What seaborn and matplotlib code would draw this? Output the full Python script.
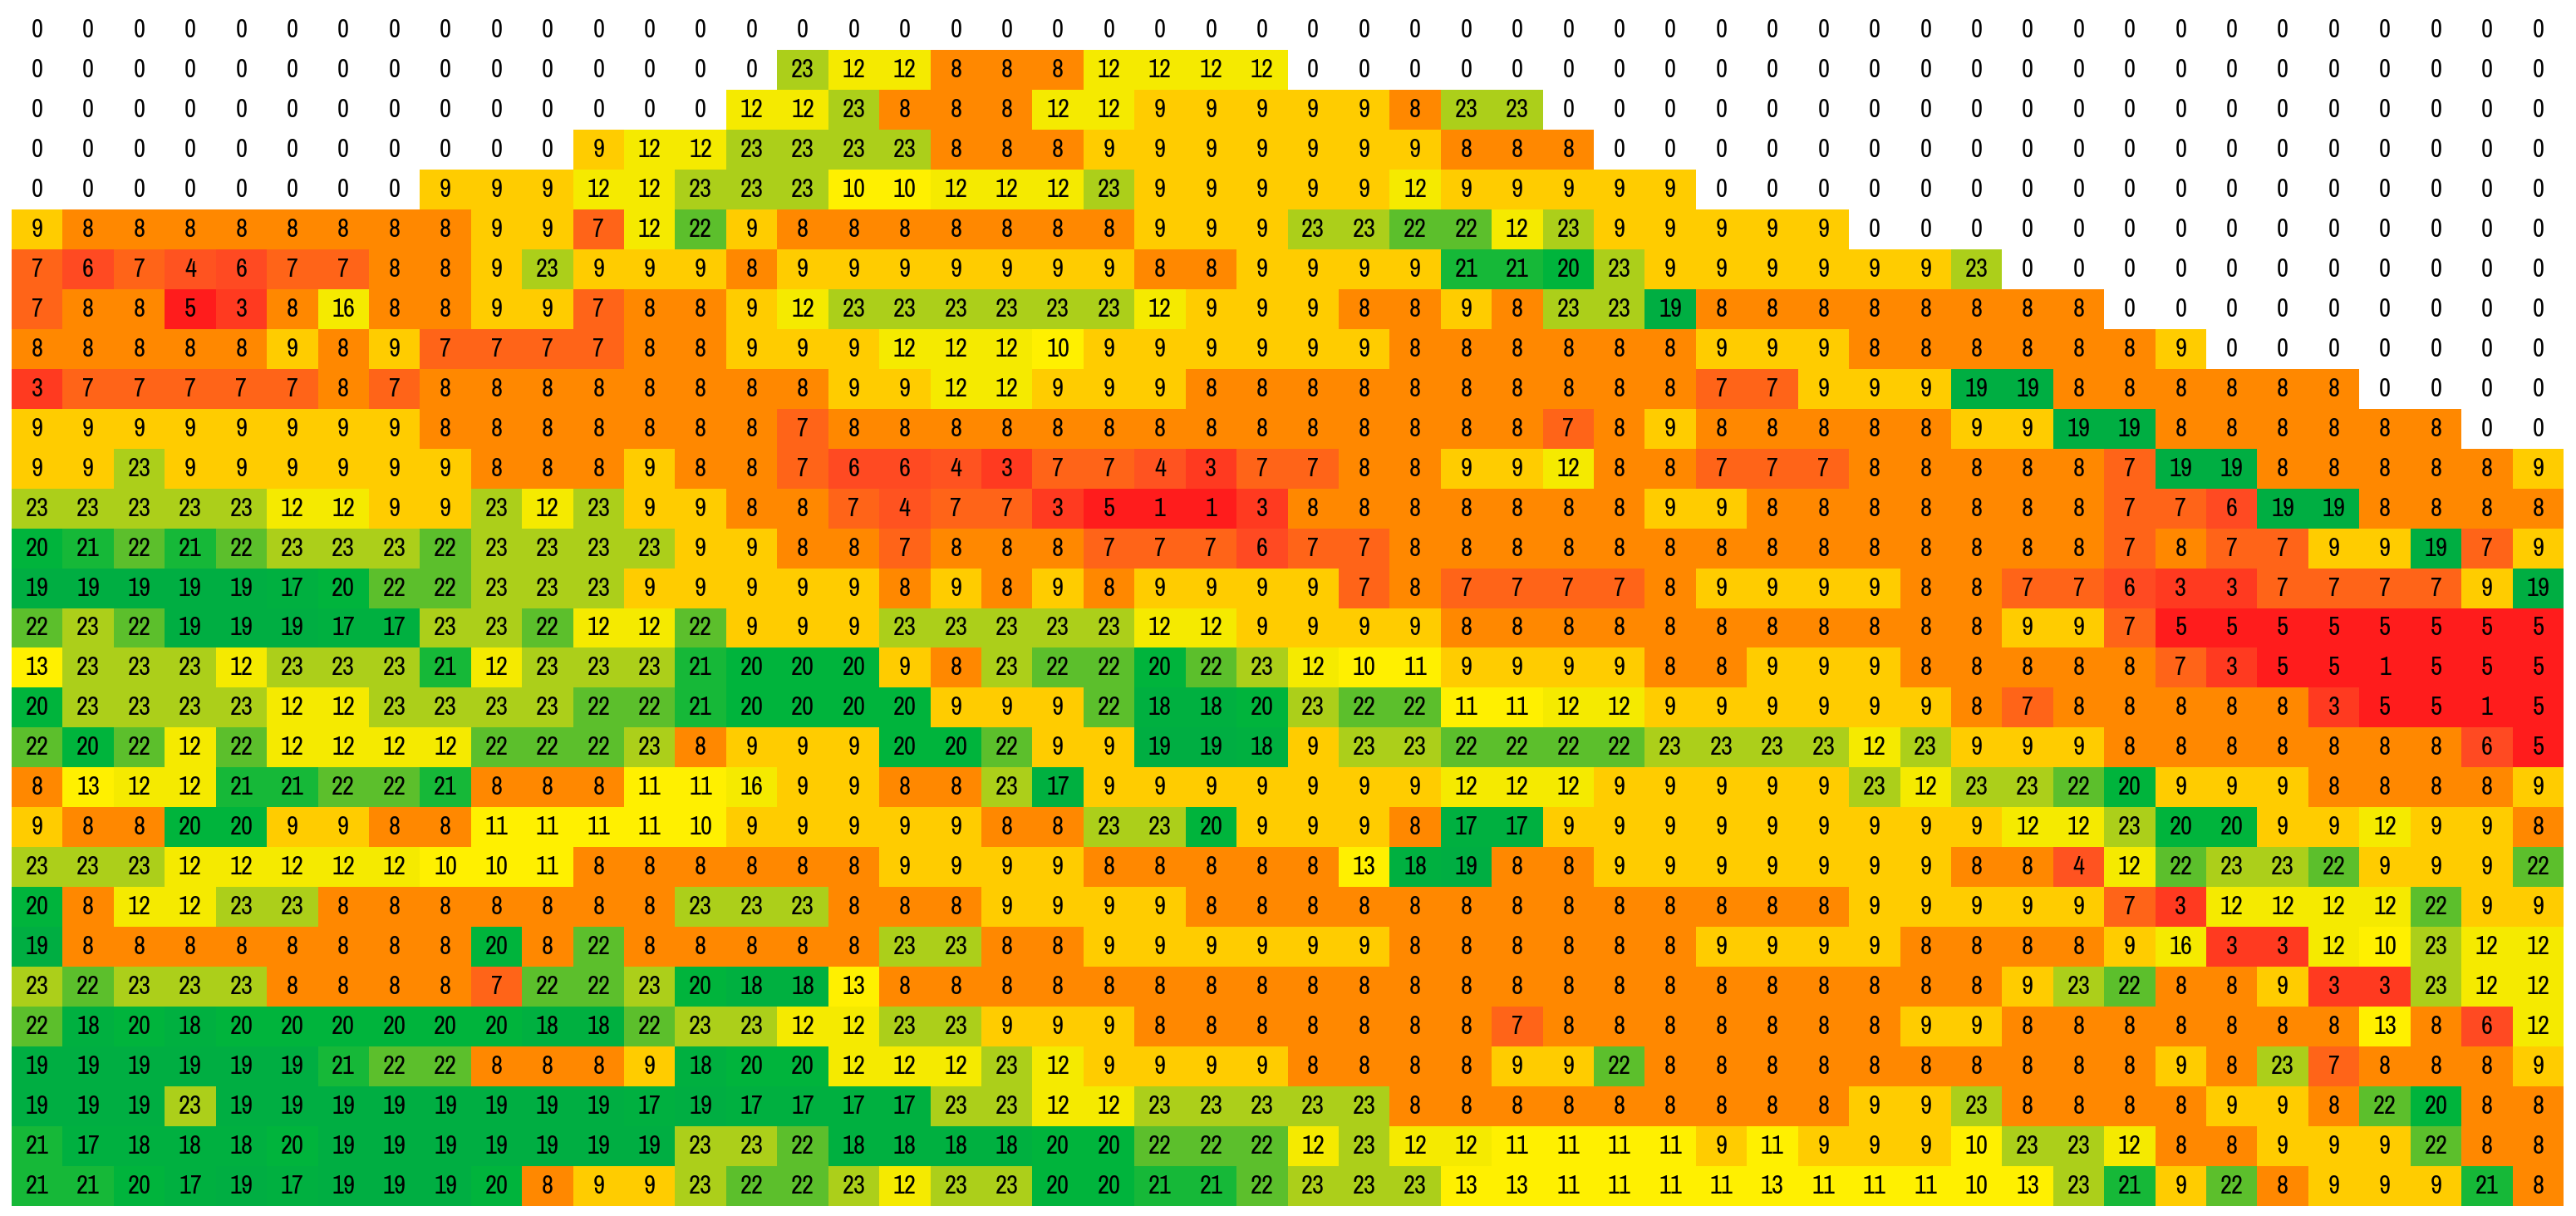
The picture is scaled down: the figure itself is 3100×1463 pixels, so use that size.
import numpy as np
import matplotlib
matplotlib.use("Agg")
import matplotlib.pyplot as plt
import seaborn as sns
from matplotlib.colors import ListedColormap

# ---- data: one list per grid row (top to bottom), 50 columns each ----
row_01 = [0]*50
row_02 = [0]*15 + [23, 12, 12, 8, 8, 8, 12, 12, 12, 12] + [0]*25
row_03 = [0]*14 + [12, 12, 23, 8, 8, 8, 12, 12, 9, 9, 9, 9, 9, 8, 23, 23] + [0]*20
row_04 = [0]*11 + [9, 12, 12, 23, 23, 23, 23, 8, 8, 8, 9, 9, 9, 9, 9, 9, 9, 8, 8, 8] + [0]*19
row_05 = [0]*8 + [9, 9, 9, 12, 12, 23, 23, 23, 10, 10, 12, 12, 12, 23, 9, 9, 9, 9, 9, 12, 9, 9, 9, 9, 9] + [0]*17
row_06 = [9, 8, 8, 8, 8, 8, 8, 8, 8, 9, 9, 7, 12, 22, 9, 8, 8, 8, 8, 8, 8, 8, 9, 9, 9, 23, 23, 22, 22, 12,
          23, 9, 9, 9, 9, 9] + [0]*14
row_07 = [7, 6, 7, 4, 6, 7, 7, 8, 8, 9, 23, 9, 9, 9, 8, 9, 9, 9, 9, 9, 9, 9, 8, 8, 9, 9, 9, 9, 21, 21,
          20, 23, 9, 9, 9, 9, 9, 9, 23] + [0]*11
row_08 = [7, 8, 8, 5, 3, 8, 16, 8, 8, 9, 9, 7, 8, 8, 9, 12, 23, 23, 23, 23, 23, 23, 12, 9, 9, 9, 8, 8, 9, 8,
          23, 23, 19, 8, 8, 8, 8, 8, 8, 8, 8] + [0]*9
row_09 = [8, 8, 8, 8, 8, 9, 8, 9, 7, 7, 7, 7, 8, 8, 9, 9, 9, 12, 12, 12, 10, 9, 9, 9, 9, 9, 9, 8, 8, 8,
          8, 8, 8, 9, 9, 9, 8, 8, 8, 8, 8, 8, 9] + [0]*7
row_10 = [3, 7, 7, 7, 7, 7, 8, 7, 8, 8, 8, 8, 8, 8, 8, 8, 9, 9, 12, 12, 9, 9, 9, 8, 8, 8, 8, 8, 8, 8,
          8, 8, 8, 7, 7, 9, 9, 9, 19, 19, 8, 8, 8, 8, 8, 8] + [0]*4
row_11 = [9, 9, 9, 9, 9, 9, 9, 9, 8, 8, 8, 8, 8, 8, 8, 7, 8, 8, 8, 8, 8, 8, 8, 8, 8, 8, 8, 8, 8, 8,
          7, 8, 9, 8, 8, 8, 8, 8, 9, 9, 19, 19, 8, 8, 8, 8, 8, 8, 0, 0]
row_12 = [9, 9, 23, 9, 9, 9, 9, 9, 9, 8, 8, 8, 9, 8, 8, 7, 6, 6, 4, 3, 7, 7, 4, 3, 7, 7, 8, 8, 9, 9,
          12, 8, 8, 7, 7, 7, 8, 8, 8, 8, 8, 7, 19, 19, 8, 8, 8, 8, 8, 9]
row_13 = [23, 23, 23, 23, 23, 12, 12, 9, 9, 23, 12, 23, 9, 9, 8, 8, 7, 4, 7, 7, 3, 5, 1, 1, 3, 8, 8, 8, 8, 8,
          8, 8, 9, 9, 8, 8, 8, 8, 8, 8, 8, 7, 7, 6, 19, 19, 8, 8, 8, 8]
row_14 = [20, 21, 22, 21, 22, 23, 23, 23, 22, 23, 23, 23, 23, 9, 9, 8, 8, 7, 8, 8, 8, 7, 7, 7, 6, 7, 7, 8, 8, 8,
          8, 8, 8, 8, 8, 8, 8, 8, 8, 8, 8, 7, 8, 7, 7, 9, 9, 19, 7, 9]
row_15 = [19, 19, 19, 19, 19, 17, 20, 22, 22, 23, 23, 23, 9, 9, 9, 9, 9, 8, 9, 8, 9, 8, 9, 9, 9, 9, 7, 8, 7, 7,
          7, 7, 8, 9, 9, 9, 9, 8, 8, 7, 7, 6, 3, 3, 7, 7, 7, 7, 9, 19]
row_16 = [22, 23, 22, 19, 19, 19, 17, 17, 23, 23, 22, 12, 12, 22, 9, 9, 9, 23, 23, 23, 23, 23, 12, 12, 9, 9, 9, 9, 8, 8,
          8, 8, 8, 8, 8, 8, 8, 8, 8, 9, 9, 7, 5, 5, 5, 5, 5, 5, 5, 5]
row_17 = [13, 23, 23, 23, 12, 23, 23, 23, 21, 12, 23, 23, 23, 21, 20, 20, 20, 9, 8, 23, 22, 22, 20, 22, 23, 12, 10, 11, 9, 9,
          9, 9, 8, 8, 9, 9, 9, 8, 8, 8, 8, 8, 7, 3, 5, 5, 1, 5, 5, 5]
row_18 = [20, 23, 23, 23, 23, 12, 12, 23, 23, 23, 23, 22, 22, 21, 20, 20, 20, 20, 9, 9, 9, 22, 18, 18, 20, 23, 22, 22, 11, 11,
          12, 12, 9, 9, 9, 9, 9, 9, 8, 7, 8, 8, 8, 8, 8, 3, 5, 5, 1, 5]
row_19 = [22, 20, 22, 12, 22, 12, 12, 12, 12, 22, 22, 22, 23, 8, 9, 9, 9, 20, 20, 22, 9, 9, 19, 19, 18, 9, 23, 23, 22, 22,
          22, 22, 23, 23, 23, 23, 12, 23, 9, 9, 9, 8, 8, 8, 8, 8, 8, 8, 6, 5]
row_20 = [8, 13, 12, 12, 21, 21, 22, 22, 21, 8, 8, 8, 11, 11, 16, 9, 9, 8, 8, 23, 17, 9, 9, 9, 9, 9, 9, 9, 12, 12,
          12, 9, 9, 9, 9, 9, 23, 12, 23, 23, 22, 20, 9, 9, 9, 8, 8, 8, 8, 9]
row_21 = [9, 8, 8, 20, 20, 9, 9, 8, 8, 11, 11, 11, 11, 10, 9, 9, 9, 9, 9, 8, 8, 23, 23, 20, 9, 9, 9, 8, 17, 17,
          9, 9, 9, 9, 9, 9, 9, 9, 9, 12, 12, 23, 20, 20, 9, 9, 12, 9, 9, 8]
row_22 = [23, 23, 23, 12, 12, 12, 12, 12, 10, 10, 11, 8, 8, 8, 8, 8, 8, 9, 9, 9, 9, 8, 8, 8, 8, 8, 13, 18, 19, 8,
          8, 9, 9, 9, 9, 9, 9, 9, 8, 8, 4, 12, 22, 23, 23, 22, 9, 9, 9, 22]
row_23 = [20, 8, 12, 12, 23, 23, 8, 8, 8, 8, 8, 8, 8, 23, 23, 23, 8, 8, 8, 9, 9, 9, 9, 8, 8, 8, 8, 8, 8, 8,
          8, 8, 8, 8, 8, 8, 9, 9, 9, 9, 9, 7, 3, 12, 12, 12, 12, 22, 9, 9]
row_24 = [19, 8, 8, 8, 8, 8, 8, 8, 8, 20, 8, 22, 8, 8, 8, 8, 8, 23, 23, 8, 8, 9, 9, 9, 9, 9, 9, 8, 8, 8,
          8, 8, 8, 9, 9, 9, 9, 8, 8, 8, 8, 9, 16, 3, 3, 12, 10, 23, 12, 12]
row_25 = [23, 22, 23, 23, 23, 8, 8, 8, 8, 7, 22, 22, 23, 20, 18, 18, 13, 8, 8, 8, 8, 8, 8, 8, 8, 8, 8, 8, 8, 8,
          8, 8, 8, 8, 8, 8, 8, 8, 8, 9, 23, 22, 8, 8, 9, 3, 3, 23, 12, 12]
row_26 = [22, 18, 20, 18, 20, 20, 20, 20, 20, 20, 18, 18, 22, 23, 23, 12, 12, 23, 23, 9, 9, 9, 8, 8, 8, 8, 8, 8, 8, 7,
          8, 8, 8, 8, 8, 8, 8, 9, 9, 8, 8, 8, 8, 8, 8, 8, 13, 8, 6, 12]
row_27 = [19, 19, 19, 19, 19, 19, 21, 22, 22, 8, 8, 8, 9, 18, 20, 20, 12, 12, 12, 23, 12, 9, 9, 9, 9, 8, 8, 8, 8, 9,
          9, 22, 8, 8, 8, 8, 8, 8, 8, 8, 8, 8, 9, 8, 23, 7, 8, 8, 8, 9]
row_28 = [19, 19, 19, 23, 19, 19, 19, 19, 19, 19, 19, 19, 17, 19, 17, 17, 17, 17, 23, 23, 12, 12, 23, 23, 23, 23, 23, 8, 8, 8,
          8, 8, 8, 8, 8, 8, 9, 9, 23, 8, 8, 8, 8, 9, 9, 8, 22, 20, 8, 8]
row_29 = [21, 17, 18, 18, 18, 20, 19, 19, 19, 19, 19, 19, 19, 23, 23, 22, 18, 18, 18, 18, 20, 20, 22, 22, 22, 12, 23, 12, 12, 11,
          11, 11, 11, 9, 11, 9, 9, 9, 10, 23, 23, 12, 8, 8, 9, 9, 9, 22, 8, 8]
row_30 = [21, 21, 20, 17, 19, 17, 19, 19, 19, 20, 8, 9, 9, 23, 22, 22, 23, 12, 23, 23, 20, 20, 21, 21, 22, 23, 23, 23, 13, 13,
          11, 11, 11, 11, 13, 11, 11, 11, 10, 13, 23, 21, 9, 22, 8, 9, 9, 9, 21, 8]

rows = [row_01, row_02, row_03, row_04, row_05, row_06, row_07, row_08, row_09, row_10,
        row_11, row_12, row_13, row_14, row_15, row_16, row_17, row_18, row_19, row_20,
        row_21, row_22, row_23, row_24, row_25, row_26, row_27, row_28, row_29, row_30]
values = np.array(rows, dtype=int)

# colour for each value 0..23
value_colors = [
    '#FFFFFF',  # 0
    '#FF1C1C',  # 1
    '#FF2A1E',  # 2
    '#FF3A20',  # 3
    '#FF5320',  # 4
    '#FF1C1C',  # 5
    '#FF4A22',  # 6
    '#FF6418',  # 7
    '#FF8800',  # 8
    '#FFCC00',  # 9
    '#FFF000',  # 10
    '#FFF000',  # 11
    '#F5EA00',  # 12
    '#FFF000',  # 13
    '#F5EA00',  # 14
    '#F5EA00',  # 15
    '#F5EA00',  # 16
    '#00B040',  # 17
    '#00B040',  # 18
    '#00AE42',  # 19
    '#00B43C',  # 20
    '#16B838',  # 21
    '#5CBF2C',  # 22
    '#ACCF1A',  # 23
]
cmap = ListedColormap(value_colors)

sns.set_theme(style="white")
plt.rcParams['font.family'] = ['Archivo Narrow', 'Liberation Sans', 'DejaVu Sans']

fig = plt.figure(figsize=(31.0, 14.63), dpi=100)
ax = fig.add_axes([14/3100, 1 - 1451/1463, (3085-14)/3100, (1451-12)/1463])
sns.heatmap(values, ax=ax, cmap=cmap, vmin=-0.5, vmax=23.5, cbar=False,
            annot=True, fmt='d', annot_kws={'color': 'black', 'fontsize': 22},
            linewidths=0, xticklabels=False, yticklabels=False)
ax.set_xlabel('')
ax.set_ylabel('')
for s in ax.spines.values():
    s.set_visible(False)

fig.savefig('out.png', dpi=100, facecolor='white')
